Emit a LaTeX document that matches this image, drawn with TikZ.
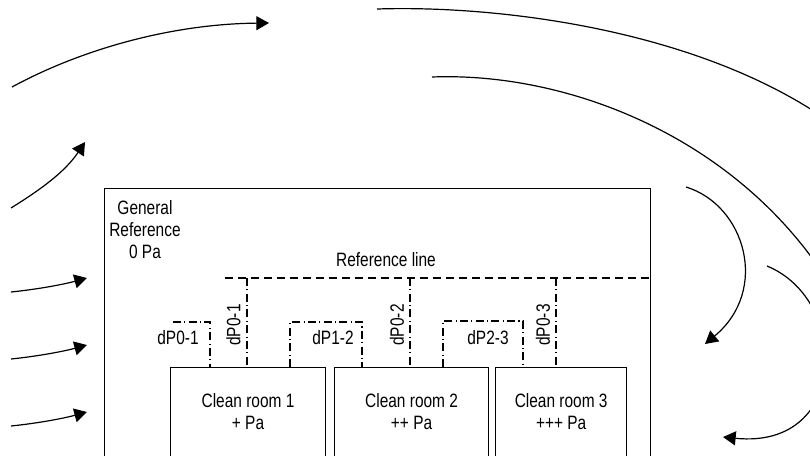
\documentclass[tikz,border=0pt]{standalone}
\usepackage{fontspec}
\setmainfont{Liberation Sans}[FakeStretch=0.8]
\usetikzlibrary{arrows.meta,positioning}

\begin{document}
\begin{tikzpicture}[x=0.75pt,y=-0.75pt,font=\fontsize{14.5}{16.5}\selectfont]
\tikzstyle{wall}=[draw=black,line width=0.8pt,inner sep=0pt,anchor=north west]
\tikzstyle{room}=[wall,minimum height=90pt]
\tikzstyle{txt}=[inner sep=0pt,align=center]
\tikzstyle{refline}=[line width=0.8pt,dash pattern=on 6pt off 3.75pt]
\tikzstyle{meas}=[line width=0.8pt,dash pattern=on 6pt off 2.5pt on 0.8pt off 2.5pt]
\tikzstyle{stream}=[line width=0.9pt]
\tikzstyle{flow}=[stream,-{Triangle[length=9.5pt,width=10.5pt]}]

\useasboundingbox (0,0) rectangle (810,455);
\clip (0,0) rectangle (810,455);

% building and the three rooms
\node [wall,minimum width=409.5pt,minimum height=220pt] at (104,188) (outer) {};
\node [txt,anchor=north] at (145,200) (gen) {General\\Reference\\0 Pa};
\node [room,minimum width=116.25pt] at (170,367) (room1) {};
\node [room,minimum width=115.5pt,right=6pt of room1] (room2) {};
\node [room,minimum width=98.25pt,right=4.5pt of room2] (room3) {};
\node [txt,below=20pt of room1.north] (name1) {Clean room 1\\+ Pa};
\node [txt,below=20pt of room2.north] (name2) {Clean room 2\\++ Pa};
\node [txt,below=20pt of room3.north] (name3) {Clean room 3\\+++ Pa};

% reference line
\coordinate (ref0) at (225,278);
\draw [refline] (ref0) -- (ref0 -| outer.east);
\node [txt] at (386,260) (reftext) {Reference line};

% taps to the reference line
\coordinate (tap1) at (247,278);
\coordinate (tap2) at (410,278);
\coordinate (tap3) at (556,278);
\draw [meas] (tap1) -- (tap1 |- room1.north);
\draw [meas] (tap2) -- (tap2 |- room2.north);
\draw [meas] (tap3) -- (tap3 |- room3.north);
\node [txt,rotate=90] at (233.5,325) (dp01v) {dP0-1};
\node [txt,rotate=90] at (397,325) (dp02v) {dP0-2};
\node [txt,rotate=90] at (543,325) (dp03v) {dP0-3};

% room to room
\coordinate (b01) at (173,322);
\coordinate (c01) at (210,322);
\coordinate (b12) at (290,322);
\coordinate (c12) at (362,322);
\coordinate (b23) at (443,321);
\coordinate (c23) at (523,321);
\draw [meas] (b01) -- (c01) -- (c01 |- room1.north);
\draw [meas] (b12 |- room1.north) -- (b12) -- (c12) -- (c12 |- room2.north);
\draw [meas] (b23 |- room2.north) -- (b23) -- (c23) -- (c23 |- room3.north);
\node [txt] at (178,338) (dp01) {dP0-1};
\node [txt] at (333,338) (dp12) {dP1-2};
\node [txt] at (488,338) (dp23) {dP2-3};

% air flow around the building
\draw [flow] (12,87) .. controls (80,50) and (170,24) .. (269,23);
\draw [stream] (377,9) .. controls (500,5) and (700,30) .. (830,122);
\draw [stream] (432,77) .. controls (560,72) and (720,130) .. (815,262);
\draw [flow] (686,187) .. controls (745,205) and (770,290) .. (705,344);
\draw [flow] (767,266) .. controls (850,300) and (850,450) .. (723,437);
\draw [flow] (11,208) .. controls (40,190) and (65,172) .. (85,142);
\foreach \y in {292,359,426}
  \draw [flow] (11,\y) .. controls (40,\y-3) and (65,\y-8) .. (87,\y-14);
\end{tikzpicture}
\end{document}
